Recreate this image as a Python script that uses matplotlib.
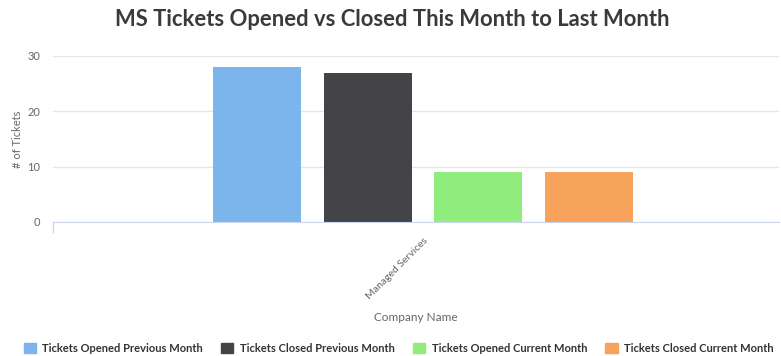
import matplotlib
matplotlib.use("Agg")
import matplotlib.pyplot as plt
from matplotlib.patches import Patch

# data
categories = ["Managed Services"]
series_names = ["Tickets Opened Previous Month", "Tickets Closed Previous Month",
                "Tickets Opened Current Month", "Tickets Closed Current Month"]
series_values = [[28], [27], [9], [9]]
colors = ["#7cb5ec", "#434348", "#90ed7d", "#f7a35c"]
y_ticks = [0, 10, 20, 30]

plt.rcParams["font.family"] = ["Lato", "DejaVu Sans"]

fig = plt.figure(figsize=(7.81, 3.56), dpi=100)
ax = fig.add_axes([53 / 781, 1 - 222 / 356, (779 - 53) / 781, (222 - 56) / 356])

pitch = 0.2
width = 0.159
n = len(series_names)
for i, (name, vals) in enumerate(zip(series_names, series_values)):
    xs = [c + (i - (n - 1) / 2) * pitch for c in range(len(categories))]
    ax.bar(xs, vals, width=width, color=colors[i], label=name, zorder=3)

x_left, x_right = -0.6676, 0.6424
ax.set_xlim(x_left, x_right)
ax.set_ylim(0, 30)
ax.set_yticks(y_ticks)
ax.yaxis.grid(True, color="#e6e6e6", linewidth=1, zorder=0)
ax.tick_params(axis="y", length=0, labelsize=8, labelcolor="#666666", pad=9)
for s in ["top", "right", "left"]:
    ax.spines[s].set_visible(False)
ax.spines["bottom"].set_color("#ccd6eb")
ax.spines["bottom"].set_zorder(4)

ax.set_xticks(range(len(categories)))
ax.set_xticklabels(categories, rotation=45, ha="right", rotation_mode="anchor",
                   fontsize=7.5, color="#666666")
ax.tick_params(axis="x", length=0, pad=10)
# small tick at left edge like the original
ax.plot([x_left, x_left], [0, -1.8], color="#ccd6eb", lw=1, clip_on=False)

ax.set_ylabel("# of Tickets", fontsize=8, color="#666666")
ax.yaxis.set_label_coords(-0.041, 0.5)
ax.set_xlabel("Company Name", fontsize=8.5, color="#666666", labelpad=8)

fig.suptitle("MS Tickets Opened vs Closed This Month to Last Month",
             x=0.502, y=0.975, fontsize=15.8, fontweight="bold", color="#3a3a3a")

handles = [Patch(color=c, label=nm) for c, nm in zip(colors, series_names)]
fig.legend(handles=handles, loc="lower center", bbox_to_anchor=(0.5105, -0.022),
           ncol=4, frameon=False, handlelength=1.1, handleheight=1.1,
           columnspacing=1.62, handletextpad=0.6,
           prop={"weight": "bold", "size": 8})
for t in fig.legends[0].get_texts():
    t.set_color("#333333")

fig.savefig("out.png", dpi=100)
